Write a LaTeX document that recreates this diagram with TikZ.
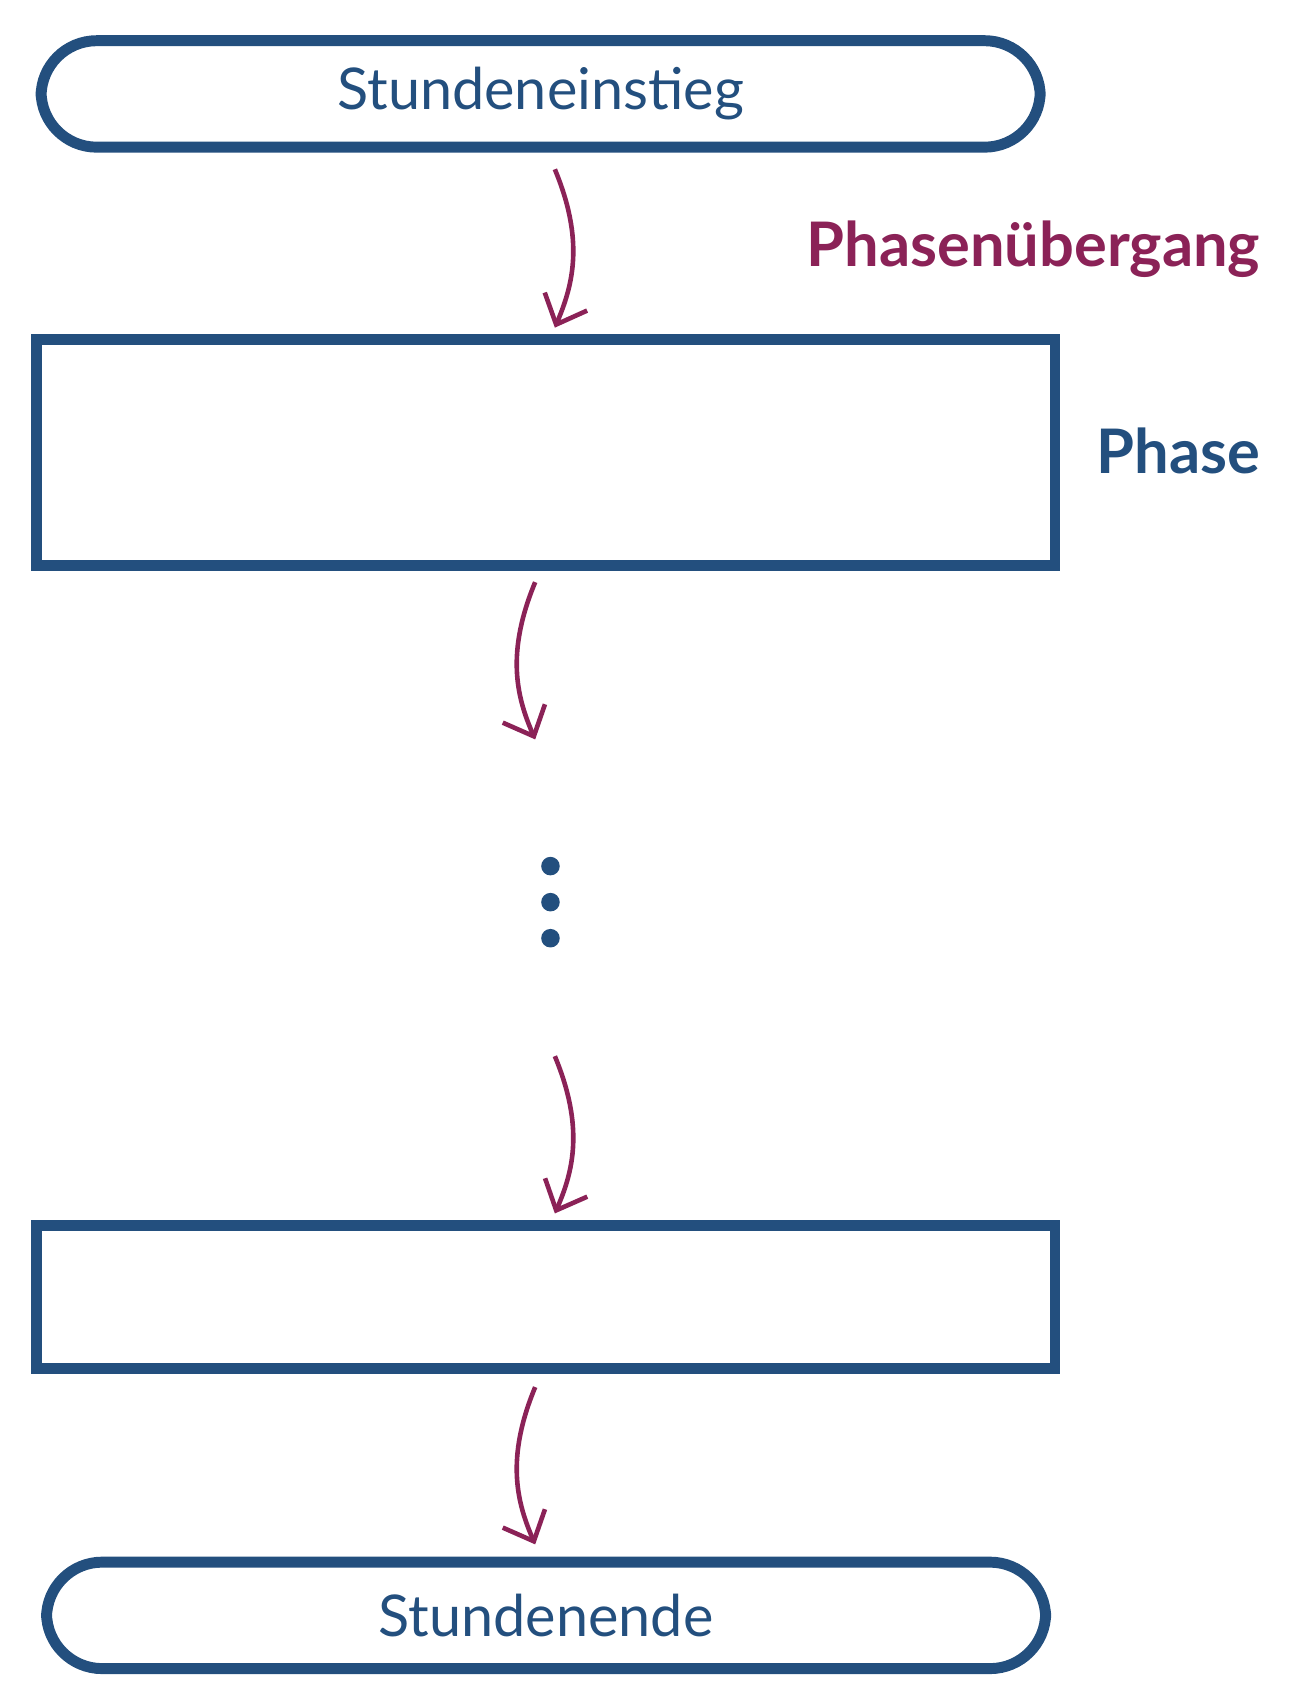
\documentclass[tikz,border=0pt]{standalone}
\usepackage{fontspec}
\setmainfont{Lato}
\usetikzlibrary{arrows.meta}
\definecolor{cblue}{HTML}{234F7E}
\definecolor{cpurp}{HTML}{8B2257}
\tikzset{
 term/.style={draw=cblue,line width=5.7pt,rounded corners=29pt,minimum width=18.3cm,minimum height=1.95cm,text=cblue,font=\fontsize{30}{34}\selectfont},
 phasebox/.style={draw=cblue,line width=5.7pt,minimum width=18.66cm},
 trans/.style={draw=cpurp,line width=2.4pt,-{Straight Barb[length=13pt,width=24pt,line width=2.4pt]}},
 dot/.style={circle,fill=cblue,inner sep=0pt,minimum size=0.34cm}
}
\begin{document}
\begin{tikzpicture}[x=0.02cm,y=-0.02cm]
\useasboundingbox (0,0) rectangle (1190,1551);
\node[term] (start) at (495,86) {Stundeneinstieg};
\node[phasebox,minimum height=4.14cm] (p1) at (499.5,414.5) {};
\node[phasebox,minimum height=2.62cm] (p2) at (499.5,1187.5) {};
\node[term] (end) at (500,1479) {Stundenende};
\node[font=\bfseries\fontsize{32}{36}\selectfont,text=cpurp,anchor=east] (lt) at (1160,228) {Phasenübergang};
\node[font=\bfseries\fontsize{32}{36}\selectfont,text=cblue,anchor=east] (lp) at (1160,413) {Phase};
\node[dot] (d1) at (504,793) {};
\node[dot] (d2) at (504,826) {};
\node[dot] (d3) at (504,859) {};
\coordinate (a1s) at (508,155); \coordinate (a1e) at (508,300);
\coordinate (a2s) at (490,533); \coordinate (a2e) at (490,677);
\coordinate (a3s) at (508,967); \coordinate (a3e) at (508,1111);
\coordinate (a4s) at (490,1270); \coordinate (a4e) at (490,1414);
\draw[trans] (a1s) .. controls (535,220) and (525,260) .. (a1e);
\draw[trans] (a2s) .. controls (463,598) and (473,638) .. (a2e);
\draw[trans] (a3s) .. controls (535,1032) and (525,1072) .. (a3e);
\draw[trans] (a4s) .. controls (463,1335) and (473,1375) .. (a4e);
\end{tikzpicture}
\end{document}
